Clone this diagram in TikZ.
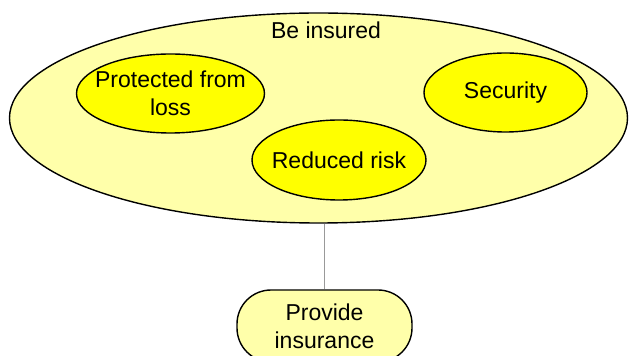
\documentclass[tikz,border=0pt]{standalone}
\usepackage{fontspec}
\setmainfont{Liberation Sans}
\usetikzlibrary{shapes.geometric}
\definecolor{paleyel}{RGB}{255,255,170}
\definecolor{brightyel}{RGB}{255,255,0}
\begin{document}
\begin{tikzpicture}[x=1pt,y=1pt,
  txt/.style={font=\fontsize{23}{28}\selectfont,align=center},
  outer/.style={ellipse,draw=black,line width=1.4pt,fill=paleyel,inner sep=0pt,minimum width=618pt,minimum height=210pt},
  inner/.style={ellipse,draw=black,line width=1.4pt,fill=brightyel,inner sep=0pt},
  boxstyle/.style={draw=black,line width=1.4pt,fill=paleyel,rounded corners=34pt,minimum width=175pt,minimum height=72pt,txt},
  link/.style={draw=gray!80,line width=1.5pt}]
\useasboundingbox (0,0) rectangle (632,356);
\clip (0,0) rectangle (632,356);
\fill[white] (0,0) rectangle (632,356);
\node[outer] (big) at (318.5,238) {};
\node[txt] (title) at (326,326) {Be insured};
\node[inner,minimum width=188pt,minimum height=79pt,label={[txt]center:Protected from\\loss}] (prot) at (170.5,262.5) {};
\node[inner,minimum width=163pt,minimum height=79pt,label={[txt]center:Security}] (sec) at (505.5,263.5) {};
\node[inner,minimum width=174pt,minimum height=80pt,label={[txt]center:Reduced risk}] (red) at (339,196) {};
\node[boxstyle] (prov) at (324.5,30) {Provide\\insurance};
\draw[link] (big.south -| prov.north) -- (prov.north);
\end{tikzpicture}
\end{document}
